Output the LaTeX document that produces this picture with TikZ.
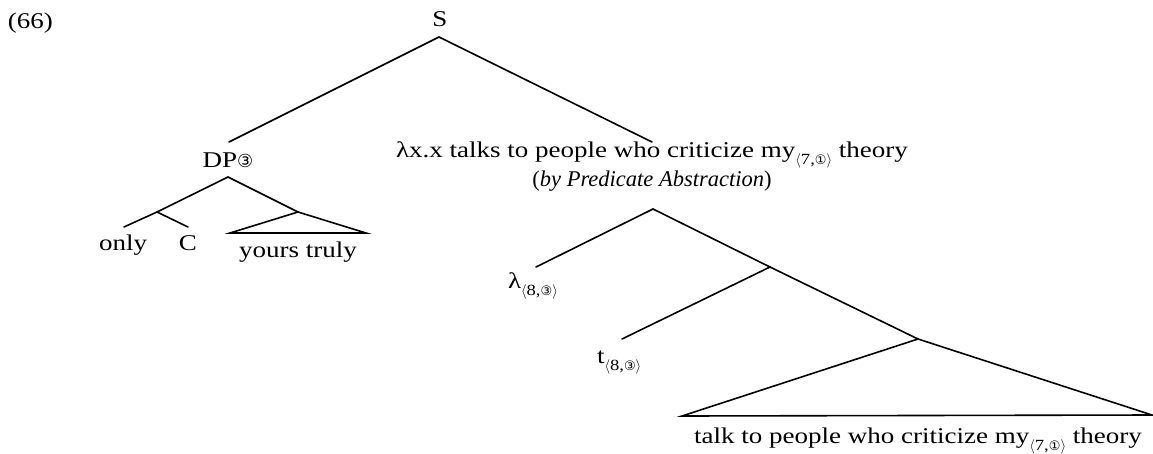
\documentclass[tikz,border=0pt]{standalone}
\usepackage{fontspec}
\setmainfont[FakeStretch=1.2]{Liberation Serif}
\newfontfamily\pafont[FakeStretch=1.0]{Liberation Serif}
\newfontfamily\circfont{DejaVu Sans}
\newcommand{\cnum}[2]{{\circfont\fontsize{#1}{#1}\selectfont #2}}
\newcommand{\idx}[2]{\raisebox{-0.33em}{\fontsize{15.5}{15.5}\selectfont$\langle$#1,\cnum{13}{#2}$\rangle$}}
\begin{document}
\begin{tikzpicture}[x=1pt,y=-1pt,
  every node/.style={inner sep=0pt,outer sep=0pt,font=\fontsize{22.5}{27}\selectfont},
  lbl/.style={anchor=base},
  branch/.style={line width=1.6pt,line cap=round,line join=miter}]
\useasboundingbox (0,0) rectangle (1153,453);
% labels
\node[lbl,anchor=base west] (num) at (8,28) {(66)};
\node[lbl] (S) at (440,26) {S};
\node[lbl] (DP) at (228,167) {DP\cnum{18}{③}};
\node[lbl] (VP) at (652,157) {λx.x talks to people who criticize my\idx{7}{①} theory};
\node[lbl] (PA) at (652,186) {\pafont(\textit{by Predicate Abstraction})};
\node[lbl] (only) at (123,250) {only};
\node[lbl] (C) at (188,250) {C};
\node[lbl] (yt) at (298,257) {yours truly};
\node[lbl,anchor=base west] (lam) at (508,288) {λ\idx{8}{③}};
\node[lbl,anchor=base west] (t) at (597,363) {t\idx{8}{③}};
\node[lbl] (talk) at (918,443) {talk to people who criticize my\idx{7}{①} theory};
% branching points
\coordinate (Sb) at (439,37);
\coordinate (DPt) at (229,142);
\coordinate (VPt) at (652,142);
\coordinate (DPb) at (228,177);
\coordinate (DPl) at (157,212);
\coordinate (onlyt) at (124,227);
\coordinate (Ct) at (188,227);
\coordinate (DPr) at (298,212);
\coordinate (ytl) at (230,233);
\coordinate (ytr) at (366,233);
\coordinate (PAb) at (653,209);
\coordinate (lamt) at (536,267);
\coordinate (N1) at (770,267);
\coordinate (tt) at (622,339);
\coordinate (N2) at (918,339);
\coordinate (talkl) at (682,416);
\coordinate (talkr) at (1152,415);
% branches
\draw[branch] (DPt) -- (Sb) -- (VPt);
\draw[branch] (DPl) -- (DPb) -- (DPr);
\draw[branch] (onlyt) -- (DPl) -- (Ct);
\draw[branch] (DPr) -- (ytl) -- (ytr) -- cycle;
\draw[branch] (lamt) -- (PAb) -- (N1);
\draw[branch] (tt) -- (N1) -- (N2);
\draw[branch] (N2) -- (talkl) -- (talkr) -- cycle;
\end{tikzpicture}
\end{document}
